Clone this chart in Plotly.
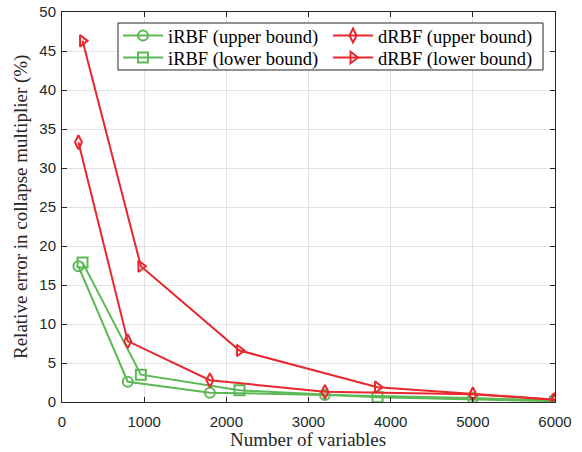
import plotly.graph_objects as go

# Number of design variables for each model size
x_upper = [200, 800, 1800, 3200, 5000, 6000]
x_lower = [250, 960, 2160, 3840, 6000]

# Relative error in collapse multiplier (%)
irbf_upper = [17.4, 2.6, 1.2, 0.9, 0.5, 0.2]
irbf_lower = [17.9, 3.5, 1.5, 0.6, 0.1]
drbf_upper = [33.3, 7.8, 2.8, 1.3, 1.0, 0.3]
drbf_lower = [46.3, 17.4, 6.6, 1.9, 0.3]

x_ticks = [0, 1000, 2000, 3000, 4000, 5000, 6000]
y_ticks = [0, 5, 10, 15, 20, 25, 30, 35, 40, 45, 50]

GREEN = "rgb(92,184,84)"
RED = "rgb(232,40,44)"
AXIS = "#262626"
SERIF = "Liberation Serif, Times New Roman, serif"
SANS = "Liberation Sans, Arial, sans-serif"

# Each entry gets its own legend so the 2x2 key can be laid out tightly
series = [
    ("iRBF (upper bound)", x_upper, irbf_upper, GREEN, "circle-open", "legend"),
    ("iRBF (lower bound)", x_lower, irbf_lower, GREEN, "square-open", "legend3"),
    ("dRBF (upper bound)", x_upper, drbf_upper, RED, "diamond-tall-open", "legend2"),
    ("dRBF (lower bound)", x_lower, drbf_lower, RED, "triangle-right-open", "legend4"),
]

fig = go.Figure()
for name, xs, ys, col, sym, leg in series:
    fig.add_trace(go.Scatter(
        x=xs, y=ys, name=name, mode="lines+markers",
        line=dict(color=col, width=2),
        marker=dict(symbol=sym, size=10, color=col, line=dict(color=col, width=2)),
        legend=leg,
    ))

axis_common = dict(
    showline=True, linecolor=AXIS, linewidth=1, mirror="ticks",
    ticks="inside", ticklen=5, tickcolor=AXIS,
    showgrid=True, gridcolor="#e3e3e3", gridwidth=1,
    zeroline=False, automargin=False,
    tickfont=dict(family=SANS, size=15, color=AXIS),
)

fig.update_xaxes(range=[0, 6000], tickvals=x_ticks, ticklabelstandoff=6, **axis_common)
fig.update_yaxes(range=[0, 50], tickvals=y_ticks, ticklabelstandoff=2, **axis_common)

title_font = dict(family=SERIF, size=19, color=AXIS)
legend_common = dict(
    orientation="v", yanchor="top", xanchor="left",
    bgcolor="rgba(0,0,0,0)", borderwidth=0,
    font=dict(family=SERIF, size=18.5, color="black"),
    itemwidth=40, tracegroupgap=0,
)

col_left, col_right = 0.1136, 0.5396
row_top, row_bottom = 0.9872, 0.9308

fig.update_layout(
    width=582, height=452,
    margin=dict(l=62, r=27, t=12, b=50),
    paper_bgcolor="white", plot_bgcolor="white",
    showlegend=True,
    legend=dict(x=col_left, y=row_top, **legend_common),
    legend2=dict(x=col_right, y=row_top, **legend_common),
    legend3=dict(x=col_left, y=row_bottom, **legend_common),
    legend4=dict(x=col_right, y=row_bottom, **legend_common),
    shapes=[dict(
        type="rect", xref="paper", yref="paper",
        x0=0.1136, x1=0.9757, y0=0.8513, y1=0.9718,
        line=dict(color=AXIS, width=1), fillcolor="white", layer="above",
    )],
    annotations=[
        dict(text="Number of variables", xref="paper", yref="paper",
             x=0.499, y=-0.0974, xanchor="center", yanchor="middle",
             showarrow=False, font=title_font),
        dict(text="Relative error in collapse multiplier (%)", xref="paper", yref="paper",
             x=-0.0832, y=0.50, xanchor="center", yanchor="middle", textangle=-90,
             showarrow=False, font=title_font),
    ],
)

fig.write_html("out.html")
